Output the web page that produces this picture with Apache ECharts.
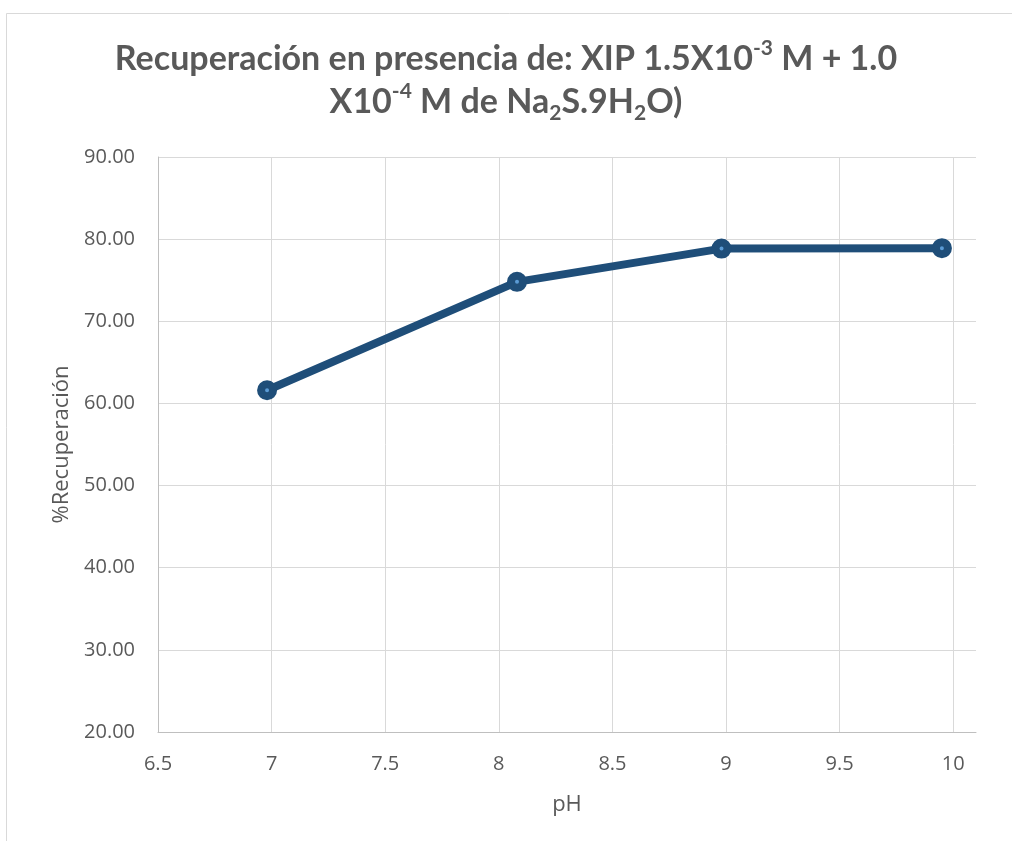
<!DOCTYPE html>
<html>
<head>
<meta charset="utf-8">
<script src="https://cdn.jsdelivr.net/npm/echarts@6/dist/echarts.min.js"></script>
<style>
  html, body { margin: 0; padding: 0; background: #ffffff; }
  #chart { width: 1012px; height: 841px; }
</style>
</head>
<body>
<div id="chart"></div>
<script>
// pH values and recovery (%) measured at each pH
const phValues = [6.98, 8.08, 8.98, 9.95];
const recovery = [61.6, 74.8, 78.85, 78.9];

const xTicks = { min: 6.5, max: 10.1, interval: 0.5 };
const yTicks = { min: 20, max: 90, interval: 10 };

const points = phValues.map((x, i) => [x, recovery[i]]);

const chart = echarts.init(document.getElementById('chart'), null, { renderer: 'canvas' });

const axisText = { color: '#595959', fontFamily: 'Open Sans', fontSize: 20 };
const nameText = { color: '#595959', fontFamily: 'Open Sans', fontSize: 22 };
const titleFont = { fontFamily: 'Lato', fontWeight: 'bold', color: '#595959' };

chart.setOption({
  backgroundColor: '#ffffff',
  animation: false,
  title: {
    left: 'center',
    top: 33,
    text: '{t|Recuperación en presencia de: XIP 1.5X10}{sup|-3}{t| M + 1.0}\n{t|X10}{sup|-4}{t| M de Na}{sub|2}{t|S.9H}{sub|2}{t|O)}',
    textStyle: {
      rich: {
        t: Object.assign({ fontSize: 34, lineHeight: 43 }, titleFont),
        sup: Object.assign({ fontSize: 21, verticalAlign: 'top' }, titleFont),
        sub: Object.assign({ fontSize: 21, verticalAlign: 'bottom' }, titleFont)
      }
    }
  },
  graphic: [{
    type: 'rect',
    shape: { x: 6.5, y: 13.5, width: 1100, height: 900 },
    style: { fill: 'none', stroke: '#d9d9d9', lineWidth: 1 },
    silent: true
  }],
  grid: { left: 158, right: 36, top: 157, bottom: 109, containLabel: false },
  xAxis: {
    type: 'value',
    min: xTicks.min,
    max: xTicks.max,
    interval: xTicks.interval,
    name: 'pH',
    nameLocation: 'middle',
    nameGap: 62,
    nameTextStyle: nameText,
    axisLine: { show: true, lineStyle: { color: '#bfbfbf', width: 1 } },
    axisTick: { show: false },
    axisLabel: Object.assign({ margin: 22, showMaxLabel: false,
      formatter: v => (Math.abs(v - 10.1) < 1e-6 ? '' : String(+v.toFixed(1))) }, axisText),
    splitLine: { show: true, showMaxLine: false, lineStyle: { color: '#d9d9d9', width: 1 } }
  },
  yAxis: {
    type: 'value',
    min: yTicks.min,
    max: yTicks.max,
    interval: yTicks.interval,
    name: '%Recuperación',
    nameLocation: 'middle',
    nameGap: 84,
    nameRotate: 90,
    nameTextStyle: nameText,
    axisLine: { show: true, lineStyle: { color: '#bfbfbf', width: 1 } },
    axisTick: { show: false },
    axisLabel: Object.assign({ margin: 23, formatter: v => v.toFixed(2) }, axisText),
    splitLine: { show: true, lineStyle: { color: '#d9d9d9', width: 1 } }
  },
  series: [{
    type: 'line',
    data: points,
    symbol: 'circle',
    symbolSize: 12,
    lineStyle: { color: '#1f4e79', width: 8 },
    itemStyle: { color: '#5b9bd5', borderColor: '#1f4e79', borderWidth: 8 },
    z: 3
  }]
});
</script>
</body>
</html>
